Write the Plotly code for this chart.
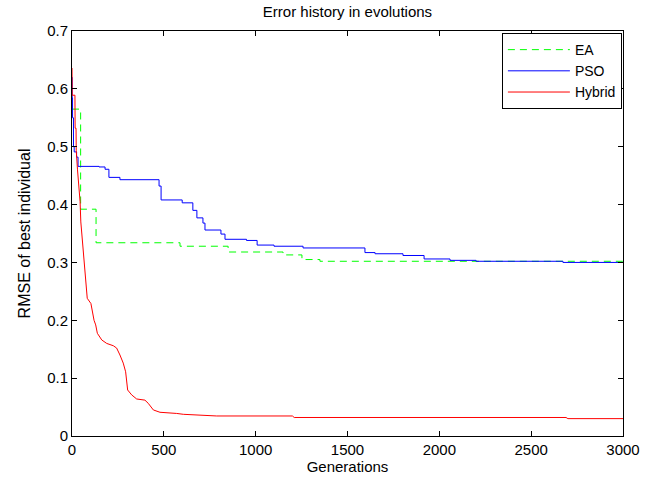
import plotly.graph_objects as go

# EA (green dashed, step)
ea_gen = [0, 47, 131, 588, 850, 1149, 1252, 1350, 3000]
ea_val = [0.565, 0.392, 0.334, 0.328, 0.318, 0.313, 0.305, 0.302, 0.302]

# PSO (blue, step)
pso_gen = [0, 1, 3, 8, 12, 25, 33, 147, 180, 201, 261, 474, 485, 600, 658, 680, 713, 724,
           811, 833, 950, 1008, 1100, 1258, 1595, 1650, 1802, 1917, 2058, 2200, 2673, 3000]
pso_val = [0.62, 0.585, 0.55, 0.50, 0.491, 0.482, 0.466, 0.465, 0.461, 0.447, 0.443, 0.432,
           0.408, 0.403, 0.390, 0.377, 0.368, 0.356, 0.349, 0.340, 0.338, 0.330, 0.328,
           0.325, 0.317, 0.315, 0.312, 0.306, 0.3036, 0.302, 0.300, 0.300]

# Hybrid (red)
hy_gen = [0, 1, 16, 17, 22, 23, 30, 44, 48, 56, 65, 75, 83, 103, 111, 120, 129, 138, 162,
          189, 225, 243, 261, 279, 292, 303, 325, 352, 397, 415, 443, 479, 570, 606, 788,
          1200, 1210, 2690, 2700, 3000]
hy_val = [0.636, 0.589, 0.589, 0.532, 0.532, 0.494, 0.46, 0.405, 0.370, 0.339, 0.307, 0.270,
          0.238, 0.229, 0.215, 0.200, 0.192, 0.1775, 0.166, 0.160, 0.156, 0.152, 0.140, 0.126,
          0.111, 0.0795, 0.071, 0.064, 0.062, 0.0565, 0.045, 0.041, 0.039, 0.0375, 0.0346,
          0.0346, 0.032, 0.032, 0.030, 0.030]

x_ticks = [0, 500, 1000, 1500, 2000, 2500, 3000]
y_ticks = [0, 0.1, 0.2, 0.3, 0.4, 0.5, 0.6, 0.7]

fig = go.Figure()
fig.add_trace(go.Scatter(x=ea_gen, y=ea_val, name="EA", mode="lines", line_shape="hv",
                         line=dict(color="#00FF00", width=1, dash="7px,5px")))
fig.add_trace(go.Scatter(x=pso_gen, y=pso_val, name="PSO", mode="lines", line_shape="hv",
                         line=dict(color="#0000FF", width=1)))
fig.add_trace(go.Scatter(x=hy_gen, y=hy_val, name="Hybrid", mode="lines",
                         line=dict(color="#FF0000", width=1)))

font = "Liberation Sans, Arial, Helvetica, sans-serif"
axis_common = dict(showline=True, linecolor="black", linewidth=1, mirror="ticks",
                   ticks="inside", ticklen=5, tickcolor="black", showgrid=False,
                   zeroline=False, automargin=False,
                   tickfont=dict(size=15, color="black", family=font))

fig.update_layout(
    width=665, height=478,
    margin=dict(l=72, r=42, t=31, b=42),
    paper_bgcolor="white", plot_bgcolor="white",
    title=dict(text="Error history in evolutions", x=0.5225, xanchor="center",
               y=1 - 12 / 478, yanchor="middle", font=dict(size=15, color="black", family=font)),
    xaxis=dict(range=[0, 3000], tickvals=x_ticks, ticktext=[str(v) for v in x_ticks],
               title=dict(text="Generations", font=dict(size=15, color="black", family=font),
                          standoff=2),
               **axis_common),
    yaxis=dict(range=[0, 0.7], tickvals=y_ticks, ticktext=[("%g" % v) for v in y_ticks],
               title=dict(text="RMSE of best individual", font=dict(size=16, color="black", family=font),
                          standoff=12),
               **axis_common),
    legend=dict(x=0.998, xanchor="right", y=0.995, yanchor="top", bgcolor="white",
                bordercolor="black", borderwidth=1,
                font=dict(size=14, color="black", family=font), itemwidth=62),
    showlegend=True,
)

# remove the browser's default 8px body margin so the figure fills the window exactly
fig.write_html("out.html", config={"displayModeBar": False},
               post_script="document.body.style.margin='0';")
